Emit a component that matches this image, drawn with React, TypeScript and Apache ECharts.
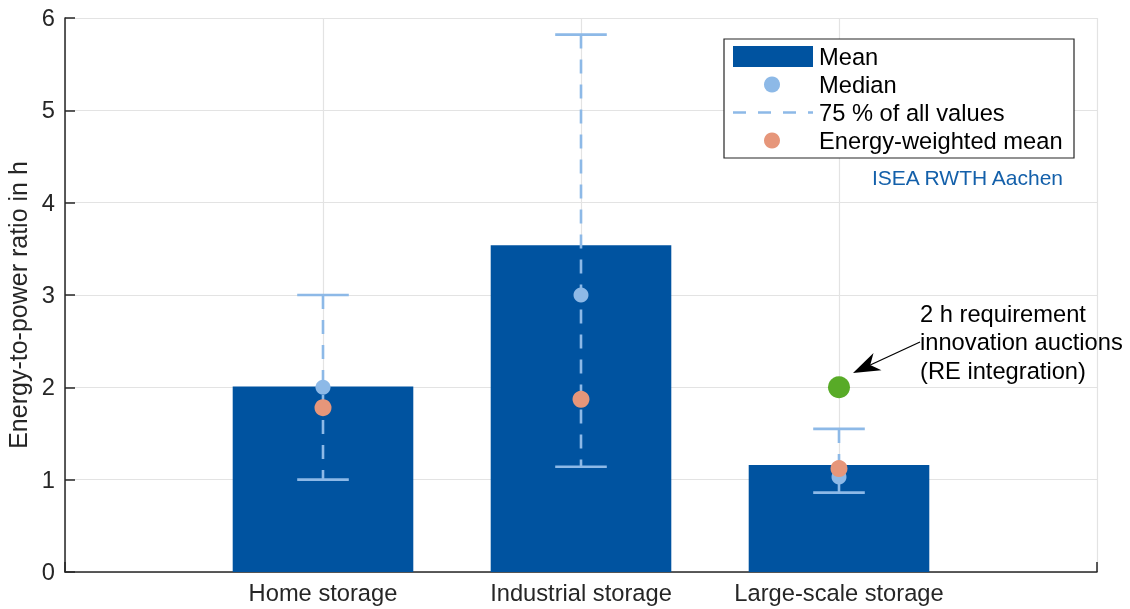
import React, { useEffect, useRef } from "react";
import * as echarts from "echarts";

const categories = ["Home storage", "Industrial storage", "Large-scale storage"];
const categoryPositions = [1, 2, 3];
const meanValues = [2.01, 3.54, 1.16];
const medianValues = [2.0, 3.0, 1.03];
const lowValues = [1.0, 1.14, 0.86];
const highValues = [3.0, 5.82, 1.55];
const energyWeightedMean = [1.78, 1.87, 1.12];
const requirementPoint = [[3, 2.0]];
const yTicks = [0, 1, 2, 3, 4, 5, 6];

const BAR = "#0053a0";
const LIGHT = "#8db9e7";
const ORANGE = "#e6967a";
const GREEN = "#58ab27";
const DARK = "#262626";
const FONT = "'Liberation Sans', Arial, Helvetica, sans-serif";
const TXT = 23.7;

export default function App() {
  const ref = useRef<HTMLDivElement>(null);
  useEffect(() => {
    const chart = echarts.init(ref.current!, null, { renderer: "svg" });

    const barData = categoryPositions.map((x, i) => [x, meanValues[i]]);
    const errData = categoryPositions.map((x, i) => [x, lowValues[i], highValues[i]]);
    const medData = categoryPositions.map((x, i) => [x, medianValues[i]]);
    const ewData = categoryPositions.map((x, i) => [x, energyWeightedMean[i]]);

    // arrow geometry for annotation
    const tip = [853, 373];
    const start = [920, 342];
    const dx = tip[0] - start[0];
    const dy = tip[1] - start[1];
    const len = Math.sqrt(dx * dx + dy * dy);
    const ux = dx / len, uy = dy / len;
    const nx = -uy, ny = ux;
    const L = 27, W = 9.5, N = 19;
    const bx = tip[0] - L * ux, by = tip[1] - L * uy;
    const notch = [tip[0] - N * ux, tip[1] - N * uy];
    const arrowPoly = [
      tip,
      [bx + W * nx, by + W * ny],
      notch,
      [bx - W * nx, by - W * ny],
    ];

    const legendRows = [56.5, 84.5, 112.5, 140.5];
    const legendTexts = ["Mean", "Median", "75 % of all values", "Energy-weighted mean"];

    chart.setOption({
      animation: false,
      grid: { left: 65, right: 33, top: 18, bottom: 37, containLabel: false, outerBoundsMode: "none" },
      xAxis: {
        type: "value",
        min: 0,
        max: 4,
        interval: 1,
        axisLine: { show: true, lineStyle: { color: DARK, width: 1.5 } },
        axisTick: { show: true, inside: true, length: 10, lineStyle: { color: DARK, width: 1.5 } },
        axisLabel: {
          margin: 9,
          fontSize: TXT,
          fontFamily: FONT,
          color: DARK,
          formatter: (v: number) => {
            const idx = categoryPositions.indexOf(v);
            return idx >= 0 ? categories[idx] : "";
          },
        },
        splitLine: { show: true, lineStyle: { color: "#e3e3e3", width: 1.2 } },
      },
      yAxis: {
        type: "value",
        min: yTicks[0],
        max: yTicks[yTicks.length - 1],
        interval: 1,
        name: "Energy-to-power ratio in h",
        nameLocation: "middle",
        nameGap: 28,
        nameTextStyle: { fontSize: 25, fontFamily: FONT, color: DARK, padding: [0, 20, 0, 0] },
        axisLine: { show: true, lineStyle: { color: DARK, width: 1.5 } },
        axisTick: { show: true, inside: true, length: 10, lineStyle: { color: DARK, width: 1.5 } },
        axisLabel: { margin: 10, fontSize: TXT, fontFamily: FONT, color: DARK },
        splitLine: { show: true, lineStyle: { color: "#e3e3e3", width: 1.2 } },
      },
      series: [
        {
          type: "custom",
          name: "Mean",
          data: barData,
          encode: { x: 0, y: 1 },
          renderItem: (params: any, api: any) => {
            const x = api.value(0);
            const v = api.value(1);
            const base = api.coord([x, 0]);
            const top = api.coord([x, v]);
            const w = api.size([0.7, 0])[0];
            return {
              type: "rect",
              shape: { x: top[0] - w / 2, y: top[1], width: w, height: base[1] - top[1] },
              style: { fill: BAR },
            };
          },
          z: 2,
        },
        {
          type: "custom",
          name: "75 % of all values",
          data: errData,
          encode: { x: 0, y: [1, 2] },
          renderItem: (params: any, api: any) => {
            const x = api.value(0);
            const lo = api.coord([x, api.value(1)]);
            const hi = api.coord([x, api.value(2)]);
            const cw = api.size([0.2, 0])[0];
            return {
              type: "group",
              children: [
                {
                  type: "line",
                  shape: { x1: hi[0], y1: hi[1], x2: lo[0], y2: lo[1] },
                  style: { stroke: LIGHT, lineWidth: 2.6, lineDash: [14, 11] },
                },
                {
                  type: "line",
                  shape: { x1: hi[0] - cw / 2, y1: hi[1], x2: hi[0] + cw / 2, y2: hi[1] },
                  style: { stroke: LIGHT, lineWidth: 2.6 },
                },
                {
                  type: "line",
                  shape: { x1: lo[0] - cw / 2, y1: lo[1], x2: lo[0] + cw / 2, y2: lo[1] },
                  style: { stroke: LIGHT, lineWidth: 2.6 },
                },
              ],
            };
          },
          z: 3,
        },
        {
          type: "scatter",
          name: "Median",
          data: medData,
          symbol: "circle",
          symbolSize: 15,
          itemStyle: { color: LIGHT, opacity: 1 },
          z: 4,
        },
        {
          type: "scatter",
          name: "Energy-weighted mean",
          data: ewData,
          symbol: "circle",
          symbolSize: 17,
          itemStyle: { color: ORANGE, opacity: 1 },
          z: 5,
        },
        {
          type: "scatter",
          name: "2 h requirement",
          data: requirementPoint,
          symbol: "circle",
          symbolSize: 22,
          itemStyle: { color: GREEN, opacity: 1 },
          z: 6,
        },
      ],
      graphic: [
        // Legend box
        {
          type: "rect",
          shape: { x: 724, y: 39, width: 350, height: 119 },
          style: { fill: "#ffffff", stroke: DARK, lineWidth: 1.2 },
          z: 10,
        },
        {
          type: "rect",
          shape: { x: 733, y: 46, width: 80, height: 21 },
          style: { fill: BAR },
          z: 11,
        },
        {
          type: "circle",
          shape: { cx: 772, cy: legendRows[1], r: 8 },
          style: { fill: LIGHT },
          z: 11,
        },
        {
          type: "line",
          shape: { x1: 733, y1: legendRows[2], x2: 813, y2: legendRows[2] },
          style: { stroke: LIGHT, lineWidth: 2.6, lineDash: [13, 12] },
          z: 11,
        },
        {
          type: "circle",
          shape: { cx: 772, cy: legendRows[3], r: 8 },
          style: { fill: ORANGE },
          z: 11,
        },
        ...legendTexts.map((t, i) => ({
          type: "text",
          x: 819,
          y: legendRows[i],
          style: {
            text: t,
            fontSize: TXT,
            fontFamily: FONT,
            fill: "#000000",
            verticalAlign: "middle",
            align: "left",
          },
          z: 11,
        })),
        {
          type: "text",
          x: 872,
          y: 177,
          style: {
            text: "ISEA RWTH Aachen",
            fontSize: 21,
            fontFamily: FONT,
            fill: "#1460aa",
            verticalAlign: "middle",
            align: "left",
          },
          z: 11,
        },
        // Annotation
        {
          type: "text",
          x: 920,
          y: 342,
          style: {
            text: "2 h requirement\ninnovation auctions\n(RE integration)",
            fontSize: TXT,
            lineHeight: 28.5,
            fontFamily: FONT,
            fill: "#000000",
            verticalAlign: "middle",
            align: "left",
          },
          z: 11,
        },
        {
          type: "line",
          shape: { x1: start[0], y1: start[1], x2: notch[0], y2: notch[1] },
          style: { stroke: "#000000", lineWidth: 1.3 },
          z: 11,
        },
        {
          type: "polygon",
          shape: { points: arrowPoly },
          style: { fill: "#000000" },
          z: 11,
        },
      ],
    });
    return () => chart.dispose();
  }, []);
  return (
    <div
      ref={ref}
      style={{ position: "fixed", left: 0, top: 0, width: 1130, height: 609 }}
    />
  );
}
